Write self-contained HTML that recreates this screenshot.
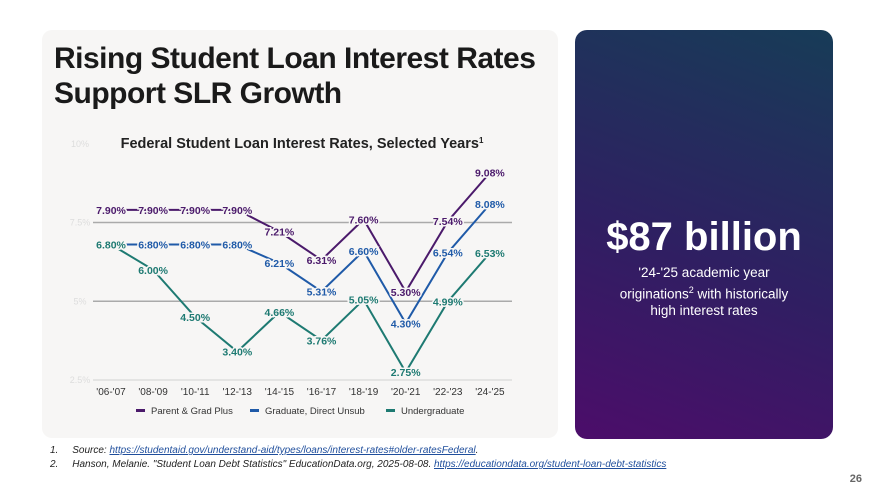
<!DOCTYPE html>
<html><head><meta charset="utf-8">
<style>
body{margin:0;width:878px;height:490px;background:#fff;font-family:"Liberation Sans","DejaVu Sans",sans-serif;position:relative;overflow:hidden}
.left{position:absolute;left:42px;top:30px;width:516px;height:408px;background:#f7f6f5;border-radius:10px}
.title{position:absolute;left:54px;top:41px;font-size:30px;font-weight:bold;line-height:35px;color:#1a1a1a;letter-spacing:-0.5px}
.right{position:absolute;left:575px;top:30px;width:258px;height:409px;border-radius:12px;background:linear-gradient(20deg,#4c0d6a 0%,#2f1f62 45%,#173c57 100%);color:#fff;text-align:center}
.big{position:absolute;left:0;width:100%;top:185px;font-size:40px;font-weight:bold}
.sub{position:absolute;left:0;width:100%;top:235px;font-size:13.5px;line-height:16.5px}
.foot{position:absolute;left:50px;font-size:10px;font-style:italic;color:#222}
.foot a{color:#1f4e9c;text-decoration:underline}
.pg{position:absolute;right:16px;top:473px;font-size:11px;color:#666;font-weight:bold}
</style></head><body>
<div class="left"></div>
<div class="title">Rising Student Loan Interest Rates<br>Support SLR Growth</div>
<svg id="chart" width="878" height="490" style="position:absolute;left:0;top:0"></svg>
<div class="right">
<div class="big">$87 billion</div>
<div class="sub">'24-'25 academic year<br>originations<sup style="font-size:9px">2</sup> with historically<br>high interest rates</div>
</div>
<div class="foot" style="top:445px">1.&nbsp;&nbsp;&nbsp;&nbsp;&nbsp;Source: <a>https://studentaid.gov/understand-aid/types/loans/interest-rates#older-ratesFederal</a>.</div>
<div class="foot" style="top:459px">2.&nbsp;&nbsp;&nbsp;&nbsp;&nbsp;Hanson, Melanie. "Student Loan Debt Statistics" EducationData.org, 2025-08-08. <a>https://educationdata.org/student-loan-debt-statistics</a></div>
<div class="pg">26</div>
<script>
const categories=["'06-'07","'08-'09","'10-'11","'12-'13","'14-'15","'16-'17","'18-'19","'20-'21","'22-'23","'24-'25"];
const parentPlus=[7.90,7.90,7.90,7.90,7.21,6.31,7.60,5.30,7.54,9.08];
const graduate=[6.80,6.80,6.80,6.80,6.21,5.31,6.60,4.30,6.54,8.08];
const undergrad=[6.80,6.00,4.50,3.40,4.66,3.76,5.05,2.75,4.99,6.53];
const yTicks=[2.5,5,7.5,10];
const seriesNames=["Parent & Grad Plus","Graduate, Direct Unsub","Undergraduate"];
const NS="http://www.w3.org/2000/svg";
const svg=document.getElementById('chart');
const x=i=>111+i*42.1;
const y=v=>380-(v-2.5)*31.5;
function mk(t,a){const e=document.createElementNS(NS,t);for(const k in a)e.setAttribute(k,a[k]);svg.appendChild(e);return e;}
let t=mk('text',{x:302,y:148,'text-anchor':'middle','font-size':14.5,'font-weight':'bold',fill:'#222'});
t.textContent='Federal Student Loan Interest Rates, Selected Years';


let sp=document.createElementNS(NS,'tspan');sp.setAttribute('font-size','8');sp.setAttribute('dy','-5');sp.textContent='1';t.appendChild(sp);
yTicks.forEach(v=>{
  const g=mk('line',{x1:93,x2:512,y1:y(v),y2:y(v),stroke:v===2.5||v===10?'#ddd':'#aaa','stroke-width':v===10?0:1.5});
  
  
  const l=mk('text',{x:80,y:y(v)+3,'text-anchor':'middle','font-size':9,fill:'#ddd'});
  l.textContent=v+'%';
  
  
});
categories.forEach((c,i)=>{
  const l=mk('text',{x:x(i),y:395,'text-anchor':'middle','font-size':10,fill:'#333'});
  l.textContent=c;
  
  
});
const series=[[parentPlus,'#4b1a6b'],[graduate,'#1f5aa8'],[undergrad,'#1e7a72']];
series.forEach(([d,col],si)=>{
  const p=mk('polyline',{points:d.map((v,i)=>x(i)+','+y(v)).join(' '),fill:'none',stroke:col,'stroke-width':2});
  
  
});
series.forEach(([d,col],si)=>{
  d.forEach((v,i)=>{
    const l=mk('text',{x:x(i),y:y(v)+4,'text-anchor':'middle','font-size':10.5,'font-weight':'bold',fill:col,stroke:'#f7f6f5','stroke-width':3,'paint-order':'stroke'});
    l.textContent=v.toFixed(2)+'%';
    
    
  });
});
const lx=[136,250,386];
seriesNames.forEach((n,i)=>{
  const r=mk('rect',{x:lx[i],y:409,width:9,height:3,fill:series[i][1]});
  
  
  const l=mk('text',{x:lx[i]+15,y:414,'font-size':9.5,fill:'#333'});
  l.textContent=n;
  
  
});
</script>
</body></html>
